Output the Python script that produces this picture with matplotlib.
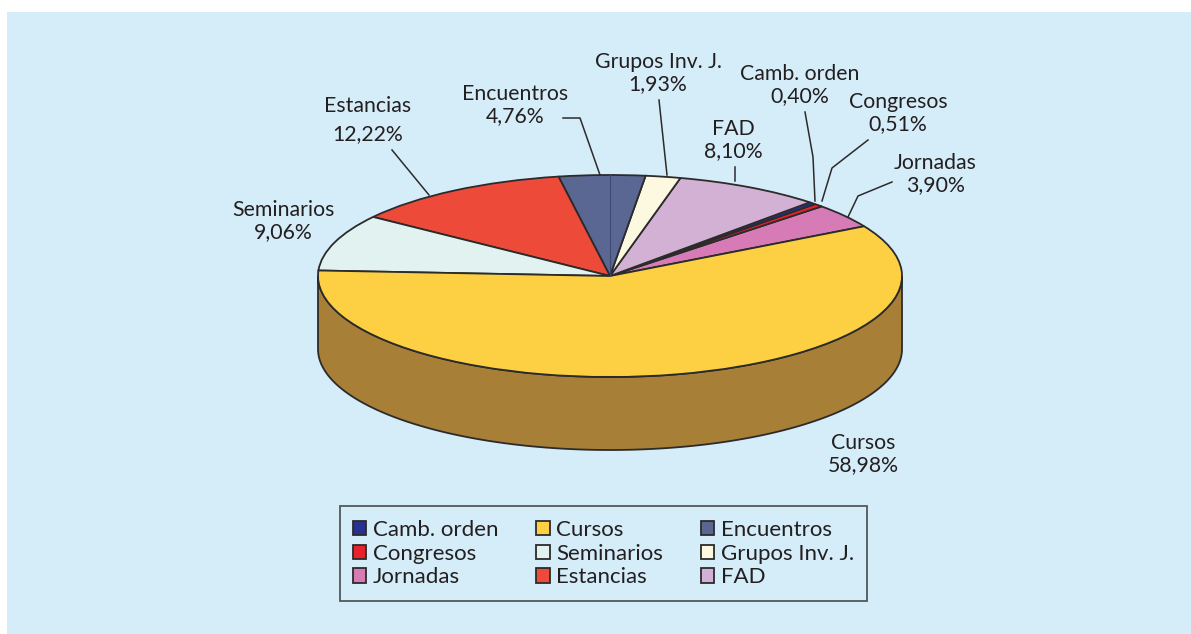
import numpy as np
import matplotlib.pyplot as plt
from matplotlib.patches import Rectangle, Polygon

plt.rcParams['font.family'] = ['Lato', 'DejaVu Sans']

# pie order, counter-clockwise from the start angle
labels = ['Jornadas', 'Congresos', 'Camb. orden', 'FAD', 'Grupos Inv. J.',
          'Encuentros', 'Estancias', 'Seminarios', 'Cursos']
values = [3.90, 0.51, 0.40, 8.10, 1.93, 4.76, 12.22, 9.06, 58.98]
pct_text = ['3,90%', '0,51%', '0,40%', '8,10%', '1,93%', '4,76%', '12,22%', '9,06%', '58,98%']
colors = ['#d77bb6', '#e8212d', '#27318f', '#d3b1d4', '#fdf8e0',
          '#5a6793', '#ee4a3a', '#e1f2f1', '#fdd043']
side_color = '#a87f37'
legend_order = ['Camb. orden', 'Congresos', 'Jornadas', 'Cursos', 'Seminarios',
                'Estancias', 'Encuentros', 'Grupos Inv. J.', 'FAD']

W, H = 1191, 634
cx, cy, rx, ry = 610, 276, 292, 101
depth = 73 / ry
txt = '#231f20'
edge = '#2b2b2b'
bg = '#d5ecf9'


def px(x, y):
    # pixel position -> data coords of the pie axes
    return (x - cx) / rx, (cy - y) / ry


fig = plt.figure(figsize=(W / 100, H / 100), dpi=100)
fig.patch.set_facecolor('white')

ax = fig.add_axes([0, 0, 1, 1])
ax.patch.set_alpha(0)
ax.add_patch(Rectangle((7 / W, 0), 1, (H - 12) / H, transform=fig.transFigure,
                       facecolor=bg, edgecolor='none', zorder=0))

wedges, _ = ax.pie(values, colors=colors, startangle=29.5, counterclock=True,
                   wedgeprops=dict(edgecolor=edge, linewidth=1.3, zorder=3))
ax.set_aspect('auto')
ax.set_xlim(px(0, 0)[0], px(W, 0)[0])
ax.set_ylim(px(0, H)[1], px(0, 0)[1])
ax.axis('off')

# side wall of the pie (front half)
t = np.radians(np.linspace(180, 360, 200))
top = np.column_stack([np.cos(t), np.sin(t)])
bot = np.column_stack([np.cos(t), np.sin(t) - depth])[::-1]
ax.add_patch(Polygon(np.vstack([top, bot]), closed=True, facecolor=side_color,
                     edgecolor=edge, linewidth=1.3, zorder=2))

# small seam line at 90 deg
ax.plot([0, np.cos(np.pi / 2)], [0, np.sin(np.pi / 2)], color='#3d4770', lw=0.8, zorder=4)

# labels: text centre, linespacing, leader path (pixels)
label_pos = {
    'Grupos Inv. J.': ((658, 73), 1.1, [(659, 100), (667, 175)]),
    'Camb. orden': ((800, 85), 1.1, [(805, 112), (813, 157), (815, 201)]),
    'Congresos': ((898, 113), 1.1, [(868, 140), (832, 168), (822, 201)]),
    'FAD': ((733, 140), 1.1, [(735, 167), (735, 181)]),
    'Jornadas': ((935, 174), 1.1, [(892, 182), (858, 196), (848, 217)]),
    'Encuentros': ((515, 105), 1.1, [(563, 118), (580, 118), (600, 175)]),
    'Estancias': ((368, 120), 1.45, [(392, 150), (429, 195)]),
    'Seminarios': ((283, 221), 1.1, []),
    'Cursos': ((863, 454), 1.1, []),
}

for name, p in zip(labels, pct_text):
    (tx, ty), ls, pts = label_pos[name]
    x, y = px(tx, ty)
    ax.text(x, y, name + '\n' + p, ha='center', va='center', fontsize=15.3,
            color=txt, linespacing=ls, zorder=6)
    if pts:
        line = [px(a, b) for a, b in pts]
        ax.plot([q[0] for q in line], [q[1] for q in line], color=edge, lw=1.1, zorder=5)

handles = [wedges[labels.index(n)] for n in legend_order]
leg = fig.legend(handles, legend_order, ncol=3, loc='center',
                 bbox_to_anchor=(603.5 / W, 1 - 553.5 / H), fontsize=16,
                 frameon=True, fancybox=False, handlelength=0.6, handleheight=0.6,
                 handletextpad=0.3, columnspacing=1.7, labelspacing=0.17,
                 borderpad=0.6, borderaxespad=0)
leg.get_frame().set_edgecolor('#333333')
leg.get_frame().set_linewidth(1.3)
leg.get_frame().set_facecolor(bg)
for tx_ in leg.get_texts():
    tx_.set_color(txt)

fig.savefig('out.png', dpi=100)
